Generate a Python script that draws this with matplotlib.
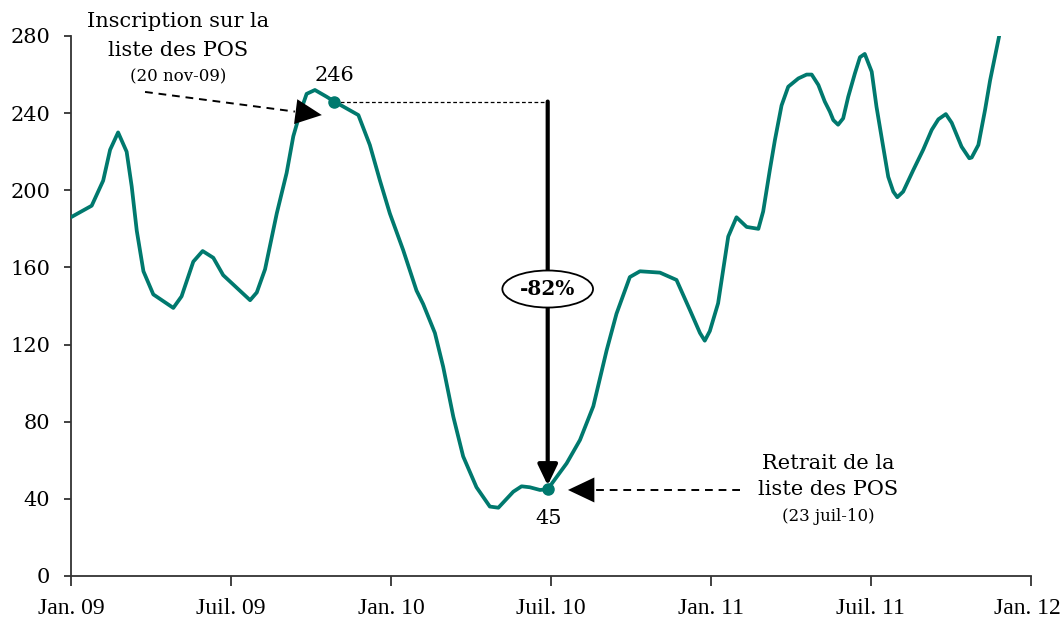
import matplotlib
matplotlib.use("Agg")
import matplotlib.pyplot as plt
from matplotlib.patches import Ellipse
from matplotlib.transforms import ScaledTranslation

plt.rcParams['font.family'] = ['DejaVu Serif']

# months counted from Jan. 2009
months = [0.0, 0.78, 1.21, 1.47, 1.77, 2.09, 2.28, 2.47, 2.72, 3.09, 3.84, 4.15,
          4.59, 4.94, 5.34, 5.71, 6.72, 6.97, 7.28, 7.72, 8.09, 8.34, 8.59, 8.84,
          9.15, 9.59, 9.88, 10.78, 11.21, 11.59, 11.96, 12.46, 12.96, 13.21, 13.65,
          13.96, 14.34, 14.71, 15.21, 15.71, 16.03, 16.59, 16.9, 17.21, 17.59, 17.88,
          18.59, 19.09, 19.59, 20.09, 20.46, 20.96, 21.34, 22.09, 22.71, 23.21, 23.59,
          23.77, 23.96, 24.27, 24.65, 24.96, 25.34, 25.78, 25.96, 26.21, 26.4, 26.65,
          26.9, 27.28, 27.59, 27.78, 28.03, 28.27, 28.46, 28.59, 28.77, 28.96, 29.15,
          29.4, 29.59, 29.77, 30.03, 30.21, 30.46, 30.65, 30.84, 30.99, 31.21, 31.59,
          31.96, 32.28, 32.53, 32.81, 33.03, 33.4, 33.69, 33.78, 34.03, 34.28, 34.47,
          34.81]
values = [186, 192, 205, 221, 230, 220, 202, 179, 158, 146, 139, 145,
          163, 168.5, 165, 156, 143, 147, 159, 188, 209, 228, 240, 250,
          252, 248.5, 246, 239, 223.5, 205, 188, 169, 148, 141, 126,
          108.5, 82.6, 62, 46, 36, 35.4, 43.7, 46.5, 46, 44.6, 45,
          58.4, 70.5, 88, 117, 136, 155, 158, 157.3, 153.5, 138, 126,
          122, 127, 141.4, 176, 186, 181, 180, 189, 210.5, 226, 244,
          253.7, 258, 260, 260, 254.6, 246, 240.8, 236.4, 234, 237.3, 248.5,
          260.6, 269, 270.7, 261.5, 243.3, 222.6, 207, 199.3, 196.4, 199.3, 210.5,
          221, 231.3, 236.8, 239.5, 235, 222.6, 216.6, 217, 223.5, 241.6, 257,
          280]

tick_months = [0, 6, 12, 18, 24, 30, 36]
tick_labels = ["Jan. 09", "Juil. 09", "Jan. 10", "Juil. 10", "Jan. 11", "Juil. 11", "Jan. 12"]
y_ticks = [0, 40, 80, 120, 160, 200, 240, 280]

i_in = months.index(9.88)    # inscription, 20 nov-09
i_out = months.index(17.88)  # retrait, 23 juil-10
change = values[i_out] / values[i_in] - 1

teal = '#00796E'

fig = plt.figure(figsize=(10.63, 6.26), dpi=100)
ax = fig.add_axes([0.0667, 0.0799, 0.9031, 0.8626])

ax.plot(months, values, color=teal, lw=2.7, solid_joinstyle='round',
        solid_capstyle='round', zorder=3)
ax.plot([months[i_in], months[i_out]], [values[i_in], values[i_out]], 'o',
        color=teal, ms=8, zorder=4)

ax.set_xlim(0, 36)
ax.set_ylim(0, 280)
ax.set_xticks(tick_months)
ax.set_xticklabels(tick_labels, family='Liberation Serif')
ax.set_yticks(y_ticks)
for s in ['top', 'right']:
    ax.spines[s].set_visible(False)
for s in ['left', 'bottom']:
    ax.spines[s].set_linewidth(1.3)
    ax.spines[s].set_color('#333333')
ax.tick_params(axis='y', length=5, width=1.3, color='#333333', labelsize=15, pad=10)
ax.tick_params(axis='x', length=7, width=1.3, color='#333333', labelsize=17, pad=9)
last = ax.get_xticklabels()[-1]
last.set_transform(last.get_transform() + ScaledTranslation(-4 / 100, 0, fig.dpi_scale_trans))

# horizontal guide from the 246 point
ax.plot([months[i_in], months[i_out]], [values[i_in], values[i_in]], color='black',
        lw=0.9, ls=(0, (3, 2)), zorder=2)

# vertical drop arrow
ax.annotate('', xy=(months[i_out], values[i_out] + 2), xytext=(months[i_out], values[i_in]),
            arrowprops=dict(arrowstyle='-|>,head_length=1.25,head_width=0.6',
                            color='black', lw=3, shrinkA=0, shrinkB=0), zorder=2)
ell = Ellipse((months[i_out], 148.8), width=3.4, height=19.2, facecolor='white',
              edgecolor='black', lw=1.3, zorder=5)
ax.add_patch(ell)
ax.text(months[i_out], 148.8, '{:.0%}'.format(change), ha='center', va='center',
        fontsize=14.5, fontweight='bold', zorder=6)

# point labels
ax.text(months[i_in] + 0.02, 259.5, '{:.0f}'.format(values[i_in]), ha='center',
        va='center', fontsize=15)
ax.text(months[i_out] + 0.05, 29.6, '{:.0f}'.format(values[i_out]), ha='center',
        va='center', fontsize=15)


# dashed annotation arrows: dashed shaft + solid head
def dashed_arrow(start, tip, base):
    ax.plot([start[0], base[0]], [start[1], base[1]], color='black', lw=1.4,
            ls=(0, (4, 3)), clip_on=False, zorder=2)
    ax.annotate('', xy=tip, xytext=start, annotation_clip=False,
                arrowprops=dict(arrowstyle='-|>,head_length=1.9,head_width=0.9',
                                color='black', lw=0, shrinkA=0, shrinkB=0))


dashed_arrow((2.78, 251), (9.41, 239), (8.4, 240.8))
dashed_arrow((25.09, 44.6), (18.64, 44.6), (19.6, 44.6))

# text blocks
ax.text(4.02, 287.3, 'Inscription sur la', ha='center', va='center', fontsize=15,
        clip_on=False)
ax.text(4.02, 272.7, 'liste des POS', ha='center', va='center', fontsize=15,
        clip_on=False)
ax.text(4.02, 258.7, '(20 nov-09)', ha='center', va='center', fontsize=12,
        clip_on=False)
ax.text(28.39, 58.1, 'Retrait de la', ha='center', va='center', fontsize=15)
ax.text(28.39, 44.6, 'liste des POS', ha='center', va='center', fontsize=15)
ax.text(28.39, 30.6, '(23 juil-10)', ha='center', va='center', fontsize=12)

fig.savefig('out.png', dpi=100)
